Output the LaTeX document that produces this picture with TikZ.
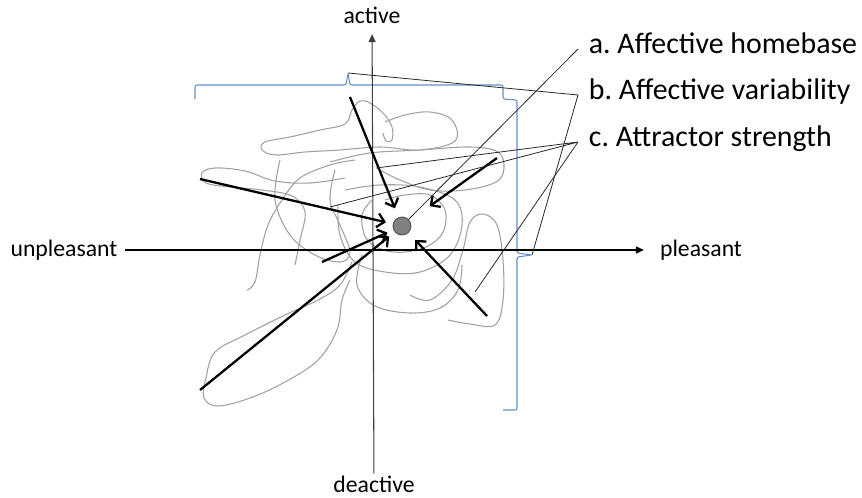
\documentclass[tikz,border=0pt]{standalone}
\usepackage{fontspec}
\setmainfont{Carlito}
\usepackage{tikz}
\usetikzlibrary{arrows.meta, positioning, calc}
\frenchspacing

\definecolor{braceblue}{RGB}{100,142,200}
\definecolor{trailgray}{RGB}{160,160,160}
\definecolor{dotgray}{RGB}{128,128,128}

\tikzset{
  %% Axis with small filled tip
  axis/.style={-{Triangle[length=4.5pt,width=4pt]}, line width=0.75pt},
  %% Pull toward the homebase
  pull/.style={-{Straight Barb[length=4pt,width=8pt]},
               draw=black, line width=1.3pt},
  %% Leader from a key label
  lead/.style={draw=black!85, line width=0.45pt},
  %% Wandering trajectory
  trail/.style={draw=trailgray, line width=0.6pt},
  %% Square brace
  brk/.style={draw=braceblue, line width=0.6pt, rounded corners=1.2pt},
  %% Texts
  axlbl/.style={font=\fontsize{13.5}{16}\selectfont, inner sep=0pt},
  keylbl/.style={font=\fontsize{17}{20}\selectfont, anchor=west,
                 inner xsep=6pt, inner ysep=0pt,
                 text height=0.72em, text depth=0.22em},
}

\begin{document}
\begin{tikzpicture}[x=0.02cm, y=-0.02cm]

  \useasboundingbox (0,0) rectangle (862,497);

  %% Wandering trajectory
  \draw[trail] plot[smooth, tension=0.6] coordinates {
    (383,133) (386,141) (392,140) (392,127) (384,114) (370,103) (360,101)
    (352,110) (345,124) (320,130) (290,137) (265,142) (262,150) (276,155)
    (305,152) (340,150) (380,147) (420,150) (455,141) (452,120) (430,112)
    (405,115) (385,122)};
  \draw[trail] plot[smooth, tension=0.6] coordinates {
    (330,162) (370,153) (420,150) (470,147) (498,152) (504,168) (496,182)
    (465,190) (430,190) (400,180) (380,170)};
  \draw[trail] plot[smooth, tension=0.6] coordinates {
    (345,178) (310,183) (275,181) (245,171) (215,168) (202,173) (206,183)
    (230,187) (262,190) (292,196) (305,212) (300,240) (295,265)};
  \draw[trail] plot[smooth, tension=0.6] coordinates {
    (247,290) (255,282) (260,255) (268,225) (282,200) (300,178) (330,165)
    (355,160)};
  \draw[trail] plot[smooth, tension=0.6] coordinates {
    (280,160) (275,200) (290,235) (315,255) (340,262) (350,252) (340,225)
    (330,200) (335,170)};
  \draw[trail] plot[smooth, tension=0.6] coordinates {
    (352,262) (340,285) (318,300) (285,315) (245,335) (215,352) (206,378)
    (204,398) (218,406) (250,398) (285,382) (318,360) (337,330) (342,300)
    (350,280)};
  \draw[trail] plot[smooth, tension=0.6] coordinates {
    (362,255) (357,285) (375,306) (410,313) (440,308) (458,290) (462,265)};
  \draw[trail] plot[smooth, tension=0.6] coordinates {
    (448,320) (470,324) (495,325) (503,300) (503,260) (497,225) (483,214)
    (470,222) (463,250) (452,280) (430,300) (410,295)};
  \draw[trail] plot[smooth, tension=0.6] coordinates {
    (385,200) (405,195) (430,195) (445,210) (443,232) (428,246) (405,252)
    (383,250) (366,238) (362,215) (372,200)};
  \draw[trail] plot[smooth, tension=0.6] coordinates {
    (345,190) (380,185) (420,187) (455,200) (462,225) (450,255) (420,272)
    (385,272) (355,262) (340,235) (338,205)};

  %% Braces
  \draw[brk] (195,99) -- (195,85) -- (346,85) -- (348,73) -- (350,85)
       -- (503,85) -- (503,99) -- (517,100) -- (517,253) -- (532,255)
       -- (517,257) -- (517,410) -- (503,410);
  \coordinate (topTip)   at (348,73);
  \coordinate (rightTip) at (532,255);

  %% Axes
  \node[axlbl] (act)   at (372,15)  {active};
  \node[axlbl] (deact) at (374,484) {deactive};
  \node[axlbl] (unpl)  at (64,250)  {unpleasant};
  \node[axlbl] (pleas) at (701,250) {pleasant};
  \draw[axis, black!75, line width=0.6pt, shorten >=6pt, shorten <=1pt]
       (deact) -- (act);
  \draw[axis, shorten <=4pt, shorten >=9pt] (unpl) -- (pleas);

  %% Homebase
  \node[circle, fill=dotgray, draw=black!70, line width=0.5pt,
        minimum size=0.36cm, inner sep=0pt] (home) at (402,226) {};

  %% Pulls toward the homebase
  \foreach \nm/\x/\y/\gap in {s1/350/97/5.5, s2/200/179/4,
                              s3/497/158/14, s4/322/262/3.7,
                              s5/200/390/4, s6/487/316/5.6}{
    \coordinate (\nm) at (\x,\y);
    \draw[pull, shorten >=\gap pt] (\nm) -- (home);
  }

  %% Key labels
  \node[keylbl] (la) at (578,49)  {a. Affective homebase};
  \node[keylbl] (lb) at (578,95)  {b. Affective variability};
  \node[keylbl] (lc) at (578,142) {c. Attractor strength};

  %% Leaders
  \coordinate (c1) at (376,168);
  \coordinate (c2) at (330,207);
  \coordinate (c3) at (475,292);
  \draw[lead] (la.west) -- (home);
  \draw[lead] (topTip) -- (lb.west) -- (rightTip);
  \draw[lead] (c1) -- (lc.west) -- (c2);
  \draw[lead] (lc.west) -- (c3);

\end{tikzpicture}
\end{document}
